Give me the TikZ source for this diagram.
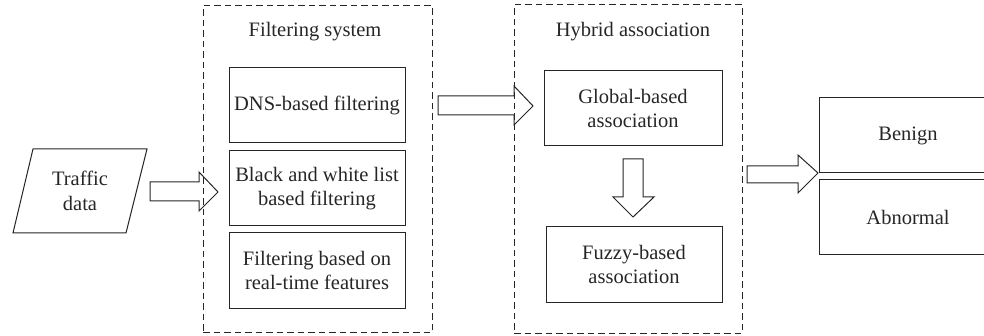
\documentclass[tikz,border=0pt]{standalone}
\usepackage{fontspec}
\setmainfont{Liberation Serif}
\begin{document}
\begin{tikzpicture}[x=1pt,y=-1pt,
  line width=1pt, draw=black!85,
  lbl/.style={font=\fontsize{20.5}{24.5}\selectfont, text=black!85, align=center, inner sep=0pt},
  box/.style={draw, rectangle, inner sep=0pt, lbl},
  dbox/.style={draw, rectangle, dash pattern=on 6.5pt off 4pt, inner sep=0pt},
  barrow/.style={draw, line join=miter}]
\useasboundingbox (0,0) rectangle (984,336);
\clip (0,0) rectangle (984,336);
% parallelogram
\draw (33,149) -- (147,149) -- (126,233) -- (13,233) -- cycle;
\node[lbl] (traffic) at (80,191) {Traffic\\data};
% dashed containers
\node[dbox, minimum width=229pt, minimum height=326pt] (fsys) at (317.5,169) {};
\node[dbox, minimum width=228pt, minimum height=328pt] (hyb) at (628,169) {};
\node[lbl] (fsyst) at (315,32) {Filtering system};
\node[lbl] (hybt) at (633,32) {Hybrid association};
% filter boxes
\node[box, minimum width=176pt, minimum height=75pt] (dns) at (317,105.5) {DNS-based filtering};
\node[box, minimum width=176pt, minimum height=75pt] (bw) at (317,188.5) {Black and white list\\based filtering};
\node[box, minimum width=176pt, minimum height=75pt] (rt) at (317,270.5) {Filtering based on\\real-time features};
% association boxes
\node[box, minimum width=178pt, minimum height=75pt] (glob) at (633,108.5) {Global-based\\association};
\node[box, minimum width=176pt, minimum height=75pt] (fuzzy) at (634,264.5) {Fuzzy-based\\association};
% outputs
\node[box, minimum width=178pt, minimum height=75pt] (benign) at (908,135.5) {Benign};
\node[box, minimum width=178pt, minimum height=75pt] (abn) at (908,217.5) {Abnormal};
% block arrows
\draw[barrow] (150,182) -- (199,182) -- (199,172) -- (218,192) -- (199,211) -- (199,201) -- (150,201) -- cycle;
\draw[barrow] (438,96) -- (514,96) -- (514,86) -- (533,106) -- (514,125) -- (514,115) -- (438,115) -- cycle;
\draw[barrow] (623,159) -- (643,159) -- (643,197) -- (654,197) -- (633,217) -- (613,197) -- (623,197) -- cycle;
\draw[barrow] (747,166) -- (798,166) -- (798,155) -- (818,173) -- (798,193) -- (798,183) -- (747,183) -- cycle;
\end{tikzpicture}
\end{document}
